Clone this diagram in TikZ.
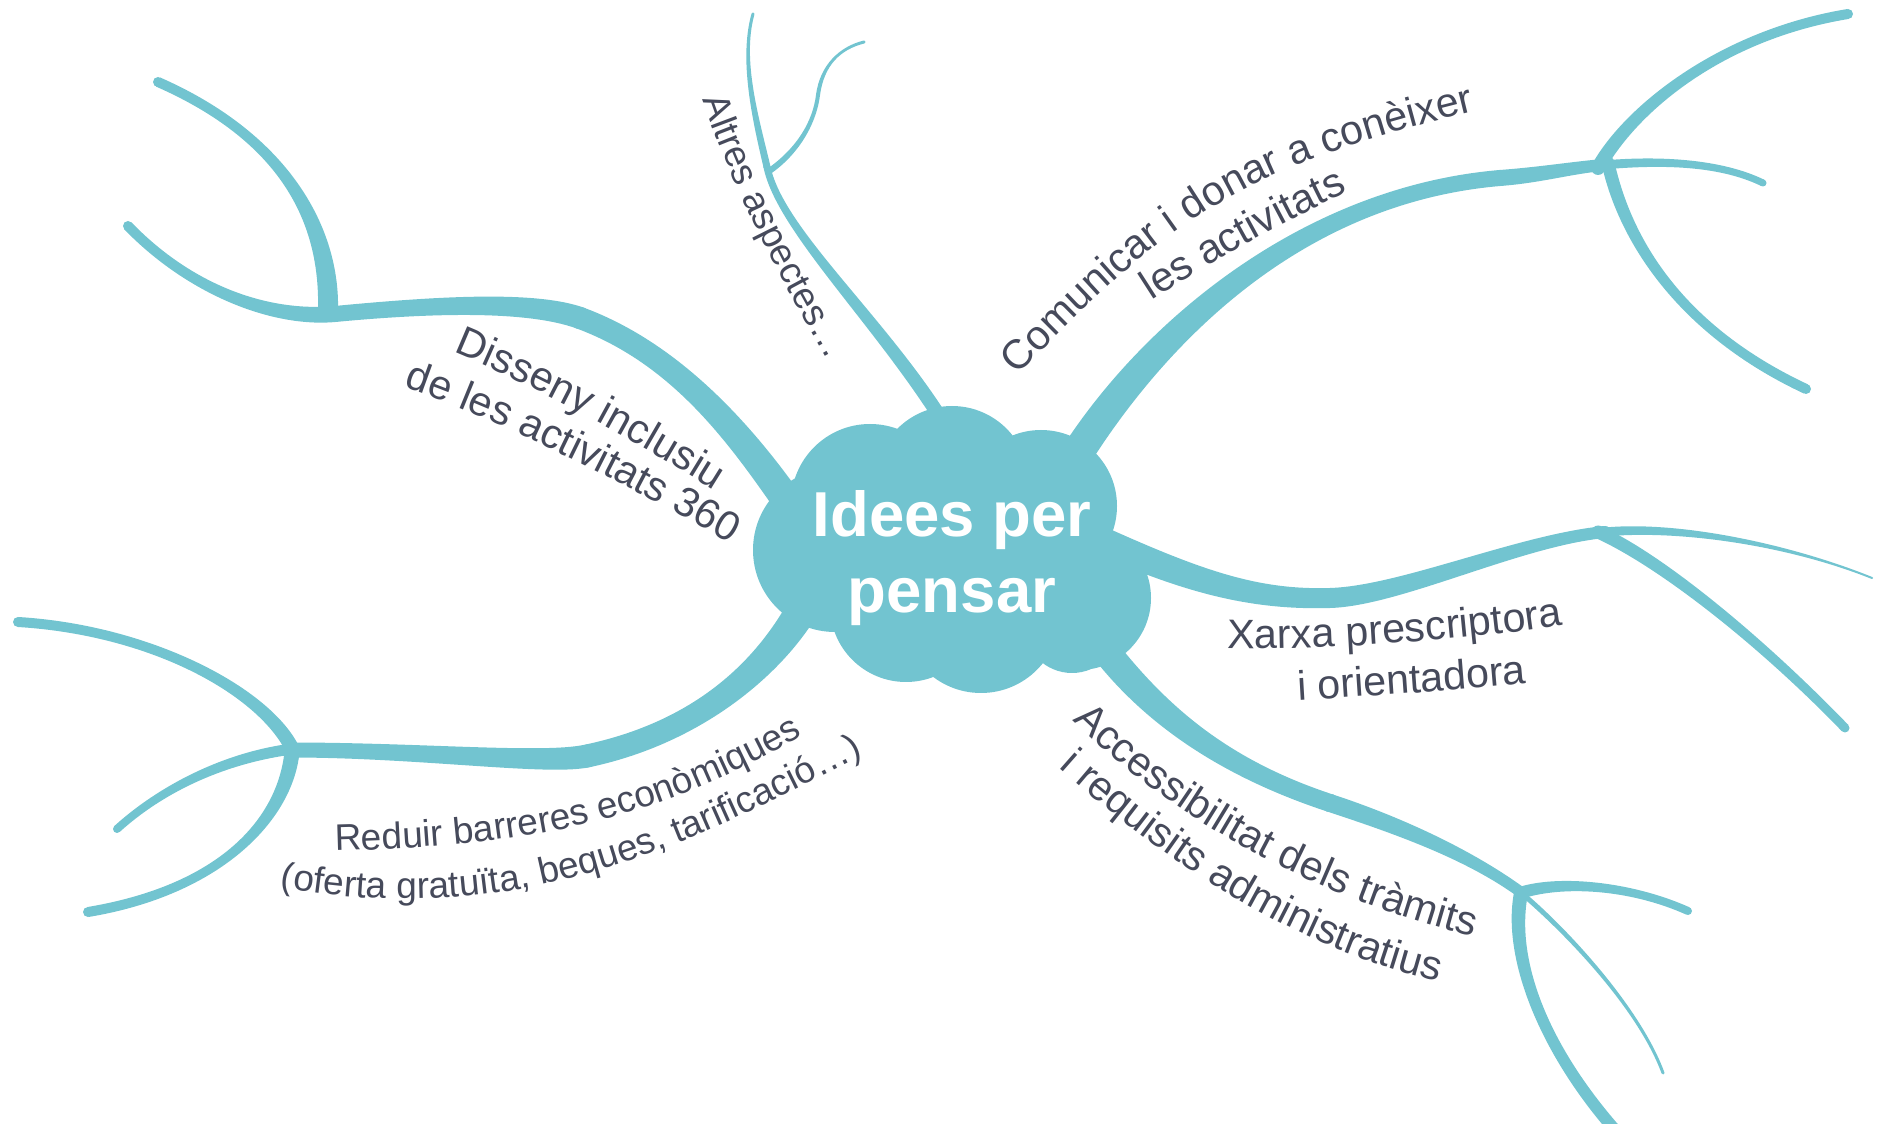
\documentclass[tikz,border=0pt]{standalone}
\usepackage{fontspec}
\setmainfont{Liberation Sans}
\usetikzlibrary{calc,decorations.text}

\definecolor{stem}{RGB}{114,196,208}
\definecolor{ink}{RGB}{70,74,91}

\newcommand\px{0.4pt}
\newcommand\mainlbl{\color{ink}\fontsize{16.5}{19}\selectfont}
\newcommand\sidelbl{\color{ink}\fontsize{14.8}{17}\selectfont}

% tapered branch: start, two controls, end, start width, end width (px)
\newcommand\twig[6]{%
  \fill[stem] ($(#1)!#5*0.2pt!90:(#2)$) .. controls ($(#2)!#5*0.2pt!-90:(#1)$) and ($(#3)!#6*0.2pt!90:(#4)$) .. ($(#4)!#6*0.2pt!-90:(#3)$)
    -- ($(#4)!#6*0.2pt!90:(#3)$) .. controls ($(#3)!#6*0.2pt!-90:(#4)$) and ($(#2)!#5*0.2pt!90:(#1)$) .. ($(#1)!#5*0.2pt!-90:(#2)$) -- cycle;
  \fill[stem] (#1) circle[radius=#5*0.2pt] (#4) circle[radius=#6*0.2pt];}

% text set along a curve: start, two controls, end, text, font
\newcommand\ontrack[6]{%
  \path[decorate, decoration={text along path, text align=center, text={|#6|#5}}]
    ($(#1)!-12pt!(#2)$) -- (#1) .. controls (#2) and (#3) .. (#4) -- ($(#4)!-12pt!(#3)$);}

\begin{document}
\begin{tikzpicture}[x=\px, y=-\px]
\clip (0,0) rectangle (1888,1124);

% Disseny inclusiu
\twig{795,512}{745,440}{680,355}{580,318}{30}{22}
\twig{580,318}{530,300}{430,305}{335,314}{22}{16}
\twig{335,314}{270,320}{190,290}{128,226}{16}{10}
\twig{328,310}{330,230}{290,140}{158,82}{20}{10}

% Altres aspectes
\twig{945,425}{880,320}{780,230}{767,167}{14}{7}
\twig{767,167}{756,120}{740,60}{753,14}{7}{3}
\twig{768,172}{800,150}{815,120}{818,95}{6}{4}
\twig{818,95}{822,65}{840,48}{864,42}{4}{3}

% Comunicar
\twig{1070,465}{1150,335}{1300,195}{1500,178}{32}{16}
\twig{1500,178}{1540,175}{1570,168}{1603,165}{16}{12}
\twig{1598,168}{1630,110}{1720,35}{1848,14}{14}{10}
\twig{1603,165}{1660,160}{1720,162}{1763,183}{9}{7}
\twig{1608,163}{1625,240}{1680,330}{1806,389}{13}{10}

% Xarxa
\twig{1100,540}{1200,585}{1260,600}{1330,598}{28}{20}
\twig{1330,598}{1400,596}{1520,540}{1605,532}{20}{12}
\twig{1605,532}{1680,525}{1790,545}{1872,578}{9}{2}
\twig{1598,532}{1660,560}{1760,640}{1845,728}{13}{9}

% Accessibilitat
\twig{1105,650}{1160,720}{1230,770}{1330,803}{28}{18}
\twig{1330,803}{1400,826}{1470,855}{1522,893}{18}{11}
\twig{1520,893}{1560,880}{1630,885}{1688,911}{12}{8}
\twig{1521,893}{1508,960}{1545,1050}{1615,1130}{14}{12}
\twig{1526,897}{1570,935}{1640,1010}{1663,1073}{5}{3}

% Reduir barreres
\twig{810,595}{780,655}{710,730}{587,756}{32}{23}
\twig{587,756}{545,765}{420,750}{290,750}{23}{15}
\twig{292,748}{262,690}{150,630}{18,622}{14}{10}
\twig{292,752}{285,820}{220,890}{88,912}{15}{10}
\twig{285,750}{220,760}{160,790}{117,829}{11}{8}

% cloud
\fill[stem] (870,503) circle[radius=79*\px] (952,483) circle[radius=77*\px]
  (1041,506) circle[radius=76*\px] (1079,598) circle[radius=72*\px]
  (1072,625) circle[radius=48*\px] (981,614) circle[radius=79*\px]
  (906,606) circle[radius=76*\px] (835,550) circle[radius=82*\px]
  (955,560) circle[radius=110*\px];
\node[text=white, font=\bfseries\fontsize{25.4}{30.4}\selectfont, align=center] (idea) at (952,558) {Idees per\\pensar};

% labels
\ontrack{438,346}{531,382}{644,445}{728,499}{Disseny inclusiu}{\mainlbl}
\ontrack{395,384}{509,423}{634,488}{738,548}{de les activitats 360}{\mainlbl}
\ontrack{700,92}{731,187}{782,281}{832,368}{Altres aspectes…}{\sidelbl}
\ontrack{1000,395}{1170,212}{1247,164}{1500,105}{Comunicar i donar a conèixer}{\mainlbl}
\ontrack{1140,308}{1200,268}{1290,218}{1360,186}{les activitats}{\mainlbl}
\ontrack{1215,648}{1300,652}{1480,640}{1575,623}{Xarxa prescriptora}{\mainlbl}
\ontrack{1290,701}{1360,697}{1460,690}{1535,683}{i orientadora}{\mainlbl}
\ontrack{1066,714}{1186,834}{1336,903}{1482,939}{Accessibilitat dels tràmits}{\mainlbl}
\ontrack{1050,760}{1169,867}{1303,953}{1450,984}{i requisits administratius}{\mainlbl}
\ontrack{327,851}{567,846}{670,810}{810,732}{Reduir barreres econòmiques}{\sidelbl}
\ontrack{283,888}{519,929}{682,848}{860,757}{(oferta gratuïta, beques, tarificació…)}{\sidelbl}
\end{tikzpicture}
\end{document}
